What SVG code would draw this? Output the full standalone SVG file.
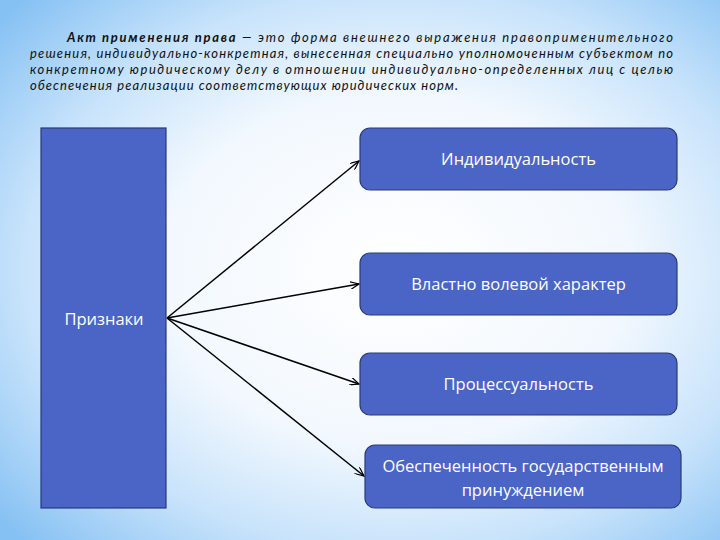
<svg xmlns="http://www.w3.org/2000/svg" width="720" height="540" viewBox="0 0 720 540">
<defs>
<radialGradient id="bg" cx="0.55" cy="0.5" r="0.72">
<stop offset="0" stop-color="#ffffff"/>
<stop offset="0.45" stop-color="#f2f8fe"/>
<stop offset="0.72" stop-color="#c8e3fb"/>
<stop offset="1" stop-color="#86c1f3"/>
</radialGradient>
<marker id="arr" markerWidth="10" markerHeight="8" refX="9" refY="4" orient="auto" markerUnits="userSpaceOnUse">
<path d="M0,0 L9,4 L0,8" fill="none" stroke="#000" stroke-width="1.2"/>
</marker>
<style>
.box{fill:#4b65c7;stroke:#2a3a78;stroke-width:1.2}
.lbl{font-family:"Open Sans","Noto Sans",sans-serif;font-size:16.5px;fill:#fff;text-anchor:middle}
.para{font-family:Lato,"Open Sans",sans-serif;font-size:13px;font-style:italic;fill:#111}
.conn{stroke:#000;stroke-width:1.5;fill:none}
</style>
</defs>
<rect width="720" height="540" fill="url(#bg)"/>
<g id="title">
<text class="para" x="67" y="42" textLength="606" lengthAdjust="spacing"><tspan font-weight="bold">Акт применения права</tspan> — это форма внешнего выражения правоприменительного</text>
<text class="para" x="30" y="58" textLength="643" lengthAdjust="spacing">решения, индивидуально-конкретная, вынесенная специально уполномоченным субъектом по</text>
<text class="para" x="30" y="74" textLength="643" lengthAdjust="spacing">конкретному юридическому делу в отношении индивидуально-определенных лиц с целью</text>
<text class="para" x="30" y="90" textLength="428" lengthAdjust="spacing">обеспечения реализации соответствующих юридических норм.</text>
</g>
<g id="connectors">
<line class="conn" x1="167" y1="318" x2="359" y2="161" marker-end="url(#arr)"/>
<line class="conn" x1="167" y1="318" x2="359" y2="284" marker-end="url(#arr)"/>
<line class="conn" x1="167" y1="318" x2="359" y2="384" marker-end="url(#arr)"/>
<line class="conn" x1="167" y1="318" x2="364" y2="476" marker-end="url(#arr)"/>
</g>
<g id="priznaki">
<rect class="box" x="41" y="128" width="125" height="380"/>
<text class="lbl" x="104" y="325">Признаки</text>
</g>
<g id="n1">
<rect class="box" x="360" y="128" width="317" height="62" rx="10"/>
<text class="lbl" x="518.5" y="165">Индивидуальность</text>
</g>
<g id="n2">
<rect class="box" x="360" y="253" width="317" height="62" rx="10"/>
<text class="lbl" x="518.5" y="290">Властно волевой характер</text>
</g>
<g id="n3">
<rect class="box" x="360" y="353" width="317" height="62" rx="10"/>
<text class="lbl" x="518.5" y="390">Процессуальность</text>
</g>
<g id="n4">
<rect class="box" x="365" y="445" width="316" height="63" rx="10"/>
<text class="lbl" x="523" y="472">Обеспеченность государственным</text>
<text class="lbl" x="523" y="496">принуждением</text>
</g>
</svg>
